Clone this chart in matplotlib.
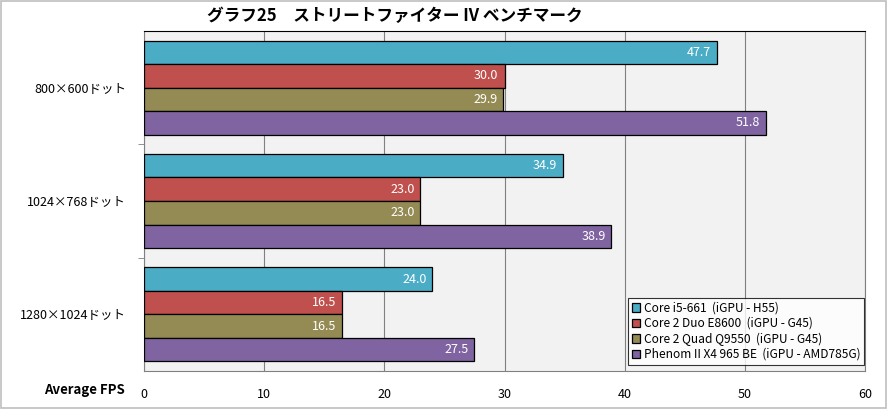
import numpy as np
import matplotlib.pyplot as plt
from matplotlib.patches import Rectangle

plt.rcParams['font.family'] = ['Noto Sans CJK JP', 'DejaVu Sans']

categories = ['800×600ドット', '1024×768ドット', '1280×1024ドット']
series = ['Core i5-661  (iGPU - H55)',
          'Core 2 Duo E8600  (iGPU - G45)',
          'Core 2 Quad Q9550  (iGPU - G45)',
          'Phenom II X4 965 BE  (iGPU - AMD785G)']
values = [
    [47.7, 34.9, 24.0],
    [30.0, 23.0, 16.5],
    [29.9, 23.0, 16.5],
    [51.8, 38.9, 27.5],
]
colors = ['#4BACC6', '#C0504D', '#948A54', '#8064A2']
x_ticks = [0, 10, 20, 30, 40, 50, 60]

fig = plt.figure(figsize=(8.88, 4.09), dpi=100)
ax = fig.add_axes([144 / 888, 1 - 371 / 409, 721 / 888, 340 / 409])
ax.set_facecolor('#F2F2F2')

bar_h = 0.2074
y = np.arange(len(categories))
for j, (name, vals) in enumerate(zip(series, values)):
    pos = y - 2 * bar_h + bar_h * (j + 0.5)
    bars = ax.barh(pos, vals, height=bar_h, color=colors[j], edgecolor='black',
                   linewidth=0.9, label=name, zorder=3)
    for b, v in zip(bars, vals):
        ax.text(v - 0.5, b.get_y() + bar_h / 2, f'{v:.1f}', ha='right', va='center',
                color='white', fontsize=9, zorder=4)

ax.set_xlim(0, 60)
ax.set_ylim(2.5, -0.5)
ax.set_xticks(x_ticks)
ax.set_xticklabels([str(t) for t in x_ticks], fontsize=9)
ax.tick_params(axis='x', length=0, pad=12)
ax.set_yticks(y)
ax.set_yticklabels(categories, fontsize=9)
ax.tick_params(axis='y', which='major', length=0, pad=13)
ax.set_yticks([0.5, 1.5], minor=True)
ax.tick_params(axis='y', which='minor', length=4, color='#808080')
ax.grid(axis='x', color='#808080', linewidth=0.8, zorder=0)
for s in ax.spines.values():
    s.set_color('#808080')
ax.spines['top'].set_color('black')

fig.text(84 / 888, 1 - 390 / 409, 'Average FPS', ha='center', va='center',
         fontsize=9.5, fontweight='bold')
fig.text(395 / 888, 1 - 16 / 409, 'グラフ25　ストリートファイター IV ベンチマーク',
         ha='center', va='center', fontsize=12, fontweight='bold')

leg = fig.legend(loc='upper left', bbox_to_anchor=(628 / 888, 1 - 298 / 409),
                 fontsize=8.6, frameon=True, fancybox=False, handlelength=0.7,
                 handleheight=0.7, handletextpad=0.35, labelspacing=0.2,
                 borderpad=0.3, borderaxespad=0)
leg.get_frame().set_edgecolor('black')
leg.get_frame().set_linewidth(0.8)

fig.patches.append(Rectangle((0.001, 0.002), 0.997, 0.995, transform=fig.transFigure,
                             fill=False, edgecolor='#BFBFBF', linewidth=1.2))

fig.savefig('out.png', dpi=100)
